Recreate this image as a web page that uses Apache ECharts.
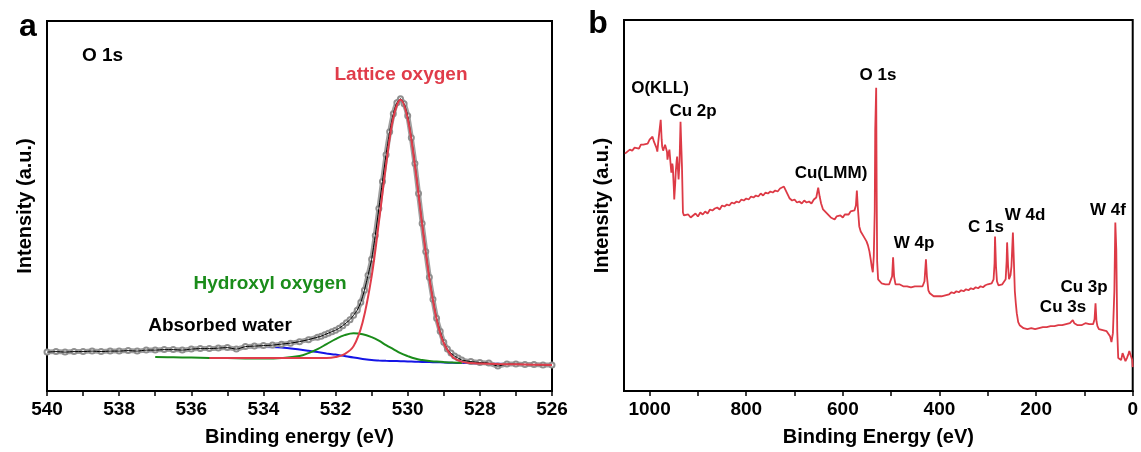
<!DOCTYPE html>
<html><head><meta charset="utf-8">
<script src="https://cdn.jsdelivr.net/npm/echarts@6.0.0/dist/echarts.min.js"></script>
<style>html,body{margin:0;padding:0;background:#fff}#c{width:1141px;height:452px}</style>
</head><body><div id="c"></div>
<script>
// ---------- Panel a: O 1s high-resolution spectrum ----------
const aEnergy = [540,539.75,539.5,539.25,539,538.75,538.5,538.25,538,537.75,537.5,537.25,537,536.75,536.5,536.25,536,535.75,535.5,535.25,535,534.75,534.5,534.25,534,533.75,533.5,533.25,533,532.75,532.5,
  532.4,532.3,532.2,532.1,532.0,531.9,531.8,531.7,531.6,531.5,531.4,531.3,531.2,531.1,531.0,530.9,530.8,530.7,530.6,530.5,
  530.4,530.3,530.2,530.1,530.0,529.9,529.8,529.7,529.6,529.5,529.4,529.3,529.2,529.1,529.0,528.9,528.8,528.7,528.6,528.5,
  528.25,528,527.75,527.5,527.25,527,526.75,526.5,526.25,526];
const aMeasured = [39,39.5,39,39.5,39.5,40,39.5,40,40,40.5,40,41,41,41.5,41.5,41,42,42.5,42.5,43,43.5,42,44.5,45,45.5,46,47,48,49.5,51.5,54,
  55,56.5,58,59.5,61,63,65.5,68.5,71.5,76,81,89,101,116,132,156,183,210,237,260,
  278,289,293,288,276,254,228,198,168,140,114,92,73,60,49,42,38,35,33,31,
  29.5,28.5,28,25,27,27,26.5,26.5,26,26];
const aFitEnergy = [540,539,538,537,536.5,536,535.5,535,534.5,534,533.5,533,532.75,532.5,532.25,532,531.75,531.5,531.25,531,530.8,530.6,530.4,530.2,530,529.8,529.6,529.4,529.2,529,528.75,528.5,528.25,528,527.5,527,526.5,526];
const aBackground = [39,39,39.5,40,40.8,41.5,42,42.5,43.5,44,43.5,41.5,40.3,39,37.7,36.5,35,33.5,32.2,31,30.6,30.3,30.1,29.9,29.6,29.4,29.2,29,28.8,28.6,28.3,28.1,27.8,27.6,27.2,26.8,26.4,26];
const aHydroxyl = [null,null,null,34,33.8,33.5,33.2,33,32.7,32.5,33,35,38,42,47,52,56,58,57,54,50.5,46,42,38,35,32.5,31,30,29.5,29,28.5,28.2,null,null,null,null,null,null];
const aLattice = [null,null,null,null,null,null,33,33,33,33,33,33,33,33,33,34,37,45,69,115,169,227,274,292,273,226,167,113,72,48,34,29.5,28,27.5,27,26.8,26.4,26];
const aTickLabels = [540,538,536,534,532,530,528,526];
const aMinorTicks = [540,539,538,537,536,535,534,533,532,531,530,529,528,527,526];

// ---------- Panel b: survey spectrum ----------
const bEnergy = [1051,1046,1041,1036,1031,1027,1022,1018,1013,1009,
  1004,1000,997,994,991,989,986,984,982,980,
  977,975,974,972,970,968,966,964,963,961,
  959,957,955,953,952,950,949,947,946,944,
  943,941,940,938,936,934,933,931,929,927,
  925,920,915,910,905,900,895,890,885,880,
  875,870,865,860,855,850,845,840,835,830,
  825,820,815,810,805,800,795,790,785,780,
  775,770,765,760,755,750,745,740,735,730,
  726,722,718,714,710,705,700,695,690,685,
  680,675,670,665,660,655,651,648,645,641,
  637,633,629,625,621,617,613,609,605,600,
  596,592,588,584,580,576,573,571,569,566,
  563,560,557,554,551,548,545,542,540,538,
  536,534,533,531,530,529,527,524,520,516,
  512,508,504,500,498,496,494,491,487,483,
  479,475,471,467,463,459,455,451,447,443,
  439,435,431,428,426,423,420,416,412,408,
  404,400,396,392,388,384,380,375,370,365,
  360,355,350,345,340,335,330,325,320,315,
  310,305,300,296,292,288,286,285,283,281,
  278,274,270,266,263,261,260,258,256,253,
  251,248,246,244,242,240,237,234,230,226,
  222,218,214,210,206,202,198,194,190,186,
  182,178,174,170,166,162,158,154,150,146,
  142,138,134,130,127,124,121,118,114,110,
  106,102,98,94,90,86,82,79,77,75,
  73,70,66,62,58,54,50,47,44,41,
  38,36,34,32,30,27,24,21,18,15,
  12,9,7,5,3,1,0];
const bIntensity = [238,240,242,241,244,245,243,247,247,249,
  248,252,251,255,250,249,244,240,250,259,
  272,252,245,241,239,247,249,240,232,238,
  242,230,219,228,225,205,192,208,219,231,
  235,220,212,230,270,240,225,179,176,174,
  175,177,174,176,178,175,179,177,180,178,
  182,181,183,184,182,186,185,187,186,189,
  188,190,189,192,191,193,192,195,194,196,
  195,198,196,199,198,200,199,201,200,203,
  202,205,203,197,193,191,192,189,190,188,
  191,189,190,188,192,194,204,195,188,182,
  180,178,176,174,175,172,175,173,176,174,
  177,179,177,180,178,181,186,201,184,165,
  160,161,155,153,150,146,140,131,124,119,
  135,180,262,304,200,130,112,110,108,110,
  107,108,107,109,115,134,115,107,105,107,
  106,105,107,105,106,104,106,105,107,105,
  106,105,110,132,115,101,98,97,95,96,
  95,96,95,97,96,98,97,99,98,100,
  99,101,100,102,101,103,102,104,103,105,
  104,106,107,109,108,112,128,155,125,110,
  106,105,107,106,112,130,149,125,112,116,
  125,159,130,100,88,78,69,66,64,63,
  64,62,64,63,64,62,64,63,65,64,
  65,64,66,65,66,65,67,66,67,66,
  68,67,66,68,69,71,68,67,66,67,
  66,67,68,66,67,68,67,72,88,70,
  65,62,63,61,62,60,58,55,49,58,
  100,169,142,60,33,32,31,38,34,30,
  33,37,40,38,39,31,24];
const bTickLabels = [1000,800,600,400,200,0];
const bMinorTicks = [1000,900,800,700,600,500,400,300,200,100,0];

const aLabels = {o1s:'O 1s', lattice:'Lattice oxygen', hydroxyl:'Hydroxyl oxygen', water:'Absorbed water'};
const bLabels = ['O(KLL)','Cu 2p','O 1s','Cu(LMM)','W 4p','C 1s','W 4d','Cu 3p','Cu 3s','W 4f'];

function pairs(xs, ys){ const out=[]; for(let i=0;i<xs.length;i++){ if(ys[i]!==null) out.push([xs[i], ys[i]]); } return out; }

const FONT = '"Liberation Sans", Arial, sans-serif';
const RED = '#e03c4a', GREEN = '#1a8c1a', BLUE = '#1414e6';

function xAxisCfg(idx, min, max, labels, ticks, name){
  return {
    gridIndex: idx, type:'value', min:min, max:max, inverse:true,
    axisLine:{show:true, onZero:false, lineStyle:{color:'#000', width:2}},
    axisTick:{show:true, inside:false, length:5, customValues:ticks, lineStyle:{color:'#000', width:1.5}},
    axisLabel:{show:true, customValues:labels, formatter:function(v){return String(v);}, margin:9, color:'#000', fontFamily:FONT, fontWeight:'bold', fontSize:19},
    splitLine:{show:false},
    name:name, nameLocation:'middle', nameGap:36,
    nameTextStyle:{color:'#000', fontFamily:FONT, fontWeight:'bold', fontSize:20}
  };
}
function yAxisCfg(idx, max){
  return {
    gridIndex: idx, type:'value', min:0, max:max,
    axisLine:{show:true, onZero:false, lineStyle:{color:'#000', width:2}},
    axisTick:{show:false}, axisLabel:{show:false}, splitLine:{show:false},
    name:'Intensity (a.u.)', nameLocation:'middle', nameGap:12,
    nameTextStyle:{color:'#000', fontFamily:FONT, fontWeight:'bold', fontSize:20}
  };
}
function txt(s, x, y, size, color, align){
  return {type:'text', x:x, y:y, z:100,
    style:{text:s, x:0, y:0, fill:color||'#000', font:'bold '+size+'px '+FONT, align:align||'center', verticalAlign:'middle'}};
}

const chart = echarts.init(document.getElementById('c'), null, {renderer:'canvas'});
chart.setOption({
  animation:false,
  backgroundColor:'#fff',
  grid:[
    {left:47, top:21, right:589, bottom:60, show:true, borderColor:'#000', borderWidth:2, backgroundColor:'transparent'},
    {left:624, top:20, right:8, bottom:60, show:true, borderColor:'#000', borderWidth:2, backgroundColor:'transparent'}
  ],
  xAxis:[
    xAxisCfg(0, 526, 540, aTickLabels, aMinorTicks, 'Binding energy (eV)'),
    xAxisCfg(1, 0, 1053, bTickLabels, bMinorTicks, 'Binding Energy (eV)')
  ],
  yAxis:[ yAxisCfg(0, 371), yAxisCfg(1, 372) ],
  series:[
    {name:'Background', type:'line', xAxisIndex:0, yAxisIndex:0, data:pairs(aFitEnergy, aBackground), smooth:0.3, showSymbol:false, z:2,
      lineStyle:{color:BLUE, width:2}},
    {name:'Measured band', type:'line', xAxisIndex:0, yAxisIndex:0, data:pairs(aEnergy, aMeasured), smooth:0.2, z:3,
      symbol:'emptyCircle', symbolSize:5, showSymbol:true, showAllSymbol:true,
      itemStyle:{color:'#8f8f8f', borderColor:'#8f8f8f', borderWidth:1},
      lineStyle:{color:'#a0a0a0', width:5}},
    {name:'Hydroxyl oxygen', type:'line', xAxisIndex:0, yAxisIndex:0, data:pairs(aFitEnergy, aHydroxyl), smooth:0.4, showSymbol:false, z:4,
      lineStyle:{color:GREEN, width:2}},
    {name:'Measured', type:'line', xAxisIndex:0, yAxisIndex:0, data:pairs(aEnergy, aMeasured), smooth:0.2, showSymbol:false, z:5,
      lineStyle:{color:'#000', width:1}},
    {name:'Lattice oxygen', type:'line', xAxisIndex:0, yAxisIndex:0, data:pairs(aFitEnergy, aLattice), smooth:0.35, showSymbol:false, z:6,
      lineStyle:{color:RED, width:2}},
    {name:'Survey', type:'line', xAxisIndex:1, yAxisIndex:1, data:pairs(bEnergy, bIntensity), showSymbol:false, z:3,
      lineStyle:{color:'#dd3a46', width:1.8}}
  ],
  graphic:[
    txt('a', 28, 27, 32),
    txt('b', 598, 24, 32),
    txt(aLabels.o1s, 82, 56, 19, '#000', 'left'),
    txt(aLabels.lattice, 401, 75, 19, RED),
    txt(aLabels.hydroxyl, 270, 284, 19, GREEN),
    txt(aLabels.water, 220, 326, 19, '#000'),
    txt(bLabels[0], 660, 88, 17),
    txt(bLabels[1], 693, 111, 17),
    txt(bLabels[2], 878, 75, 17),
    txt(bLabels[3], 831, 173, 17),
    txt(bLabels[4], 914, 243, 17),
    txt(bLabels[5], 986, 227, 17),
    txt(bLabels[6], 1025, 215, 17),
    txt(bLabels[7], 1084, 287, 17),
    txt(bLabels[8], 1063, 307, 17),
    txt(bLabels[9], 1108, 210, 17)
  ]
});
</script>
</body></html>
